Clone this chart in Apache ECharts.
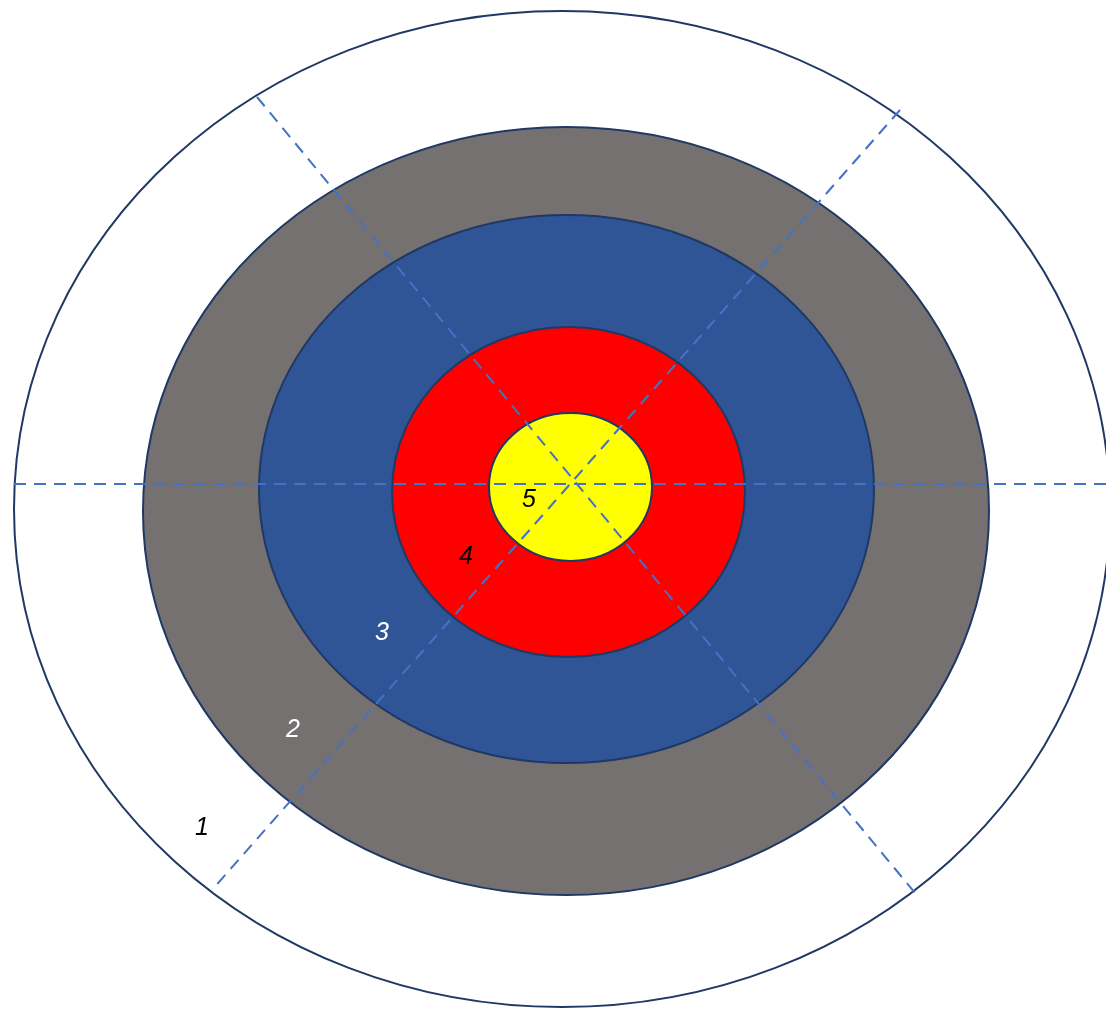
<!DOCTYPE html>
<html style="height: 100%">
   <head>
       <meta charset="utf-8">
   </head>
   <body style="height: 100%; margin: 0">
       <div id="container" style="height: 100%"></div>
       <script type="text/javascript" src="https://cdn.jsdelivr.net/npm/echarts@6/dist/echarts.min.js"></script>
       <script type="text/javascript">
var dom = document.getElementById("container");
var myChart = echarts.init(dom);
var option = null;

// rings, outermost first: score, centre and half-axes (page pixels)
var ringScores = [1, 2, 3, 4, 5];
var ringCenterX = [562, 566, 566.5, 568.5, 570.5];
var ringCenterY = [509, 511, 489, 492, 487];
var ringRadiusX = [548, 423, 307.5, 176.5, 81.5];
var ringRadiusY = [498, 384, 274, 165, 74];

// dashed guide lines: [x1, y1, x2, y2]
var guideLines = [
    [14, 484, 1106, 484],
    [257, 97, 915, 893],
    [900, 110, 212, 890]
];

// score labels
var labelText = ['1', '2', '3', '4', '5'];
var labelX = [202, 293, 382, 466, 529];
var labelY = [828, 730, 633, 557, 500];

var ringFill = ['#ffffff', '#767171', '#2f5597', '#ff0000', '#ffff00'];
var labelColor = ['#000000', '#ffffff', '#ffffff', '#000000', '#000000'];

var ringData = ringScores.map(function (s, i) {
    return [ringCenterX[i], ringCenterY[i], ringRadiusX[i], ringRadiusY[i]];
});

var ringSeries = {
    type: 'custom',
    clip: false,
    silent: true,
    z: 1,
    data: ringData,
    renderItem: function (params, api) {
        var c = api.coord([api.value(0), api.value(1)]);
        var s = api.size([api.value(2), api.value(3)]);
        return {
            type: 'ellipse',
            shape: { cx: c[0], cy: c[1], rx: Math.abs(s[0]), ry: Math.abs(s[1]) },
            style: {
                fill: ringFill[params.dataIndex],
                stroke: '#1f3864',
                lineWidth: 2
            }
        };
    }
};

var lineSeries = guideLines.map(function (l) {
    return {
        type: 'line',
        z: 3,
        symbol: 'none',
        silent: true,
        data: [[l[0], l[1]], [l[2], l[3]]],
        lineStyle: { color: '#4472c4', width: 2, type: [12, 8] }
    };
});

var labelSeries = {
    type: 'scatter',
    z: 5,
    silent: true,
    symbolSize: 1,
    itemStyle: { color: 'rgba(0,0,0,0)', opacity: 1 },
    data: labelText.map(function (t, i) {
        return {
            value: [labelX[i], labelY[i]],
            name: t,
            label: { color: labelColor[i] }
        };
    }),
    label: {
        show: true,
        position: 'inside',
        fontFamily: 'Liberation Sans',
        fontStyle: 'italic',
        fontSize: 25,
        formatter: '{b}'
    }
};

option = {
    animation: false,
    backgroundColor: '#ffffff',
    grid: { left: 0, right: 0, top: 0, bottom: 0 },
    xAxis: { type: 'value', min: 0, max: 1106, show: false },
    yAxis: { type: 'value', min: 0, max: 1009, inverse: true, show: false },
    series: [ringSeries].concat(lineSeries, [labelSeries])
};

if (option && typeof option === "object") {
    myChart.setOption(option, true);
}
       </script>
   </body>
</html>
